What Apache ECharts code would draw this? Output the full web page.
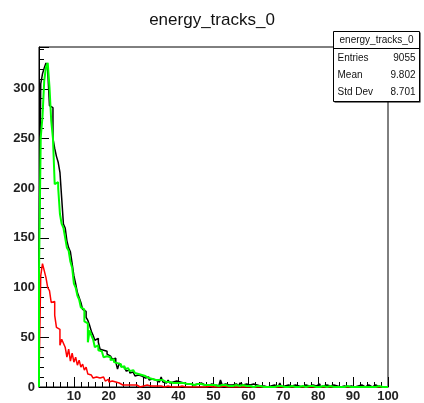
<!DOCTYPE html>
<html>
<head>
<meta charset="utf-8">
<script src="https://cdn.jsdelivr.net/npm/echarts@6/dist/echarts.min.js"></script>
<style>
  html, body { margin: 0; padding: 0; background: #fff; }
  #chart { width: 424px; height: 403px; }
</style>
</head>
<body>
<div id="chart"></div>
<script>
// Histogram energy_tracks_0: 200 bins of width 0.5 over [0, 100]
const histTitle = 'energy_tracks_0';
const binWidth = 0.5;
const xMin = 0;
const xMax = 100;
const yMax = 342;

// All tracks (black)
const blackCounts = [
  130,305,315,321,326,318,283,281,250,240,
  232,226,216,190,164,160,147,140,136,124,
  112,104,95,90,85,78,76,70,67,62,
  56,52,47,49,45,38,37,35,36,33,
  31,32,28,29,25,18,24,21,20,18,
  16,17,14,15,13,11,12,10,11,9,
  9,8,10,7,8,6,7,8,5,6,
  10,5,4,6,7,4,5,3,6,4,
  5,3,4,6,3,4,3,5,2,4,
  3,2,4,3,2,3,1,2,3,2,
  2,3,1,2,7,2,3,1,2,3,
  2,1,3,2,1,4,2,1,3,1,
  2,0,3,1,2,0,1,2,1,3,
  0,2,1,0,2,1,0,2,4,0,
  1,0,2,0,1,0,2,0,1,2,
  0,1,2,0,1,0,2,0,1,2,
  3,0,1,0,2,0,1,0,2,0,
  1,2,0,0,1,2,0,0,1,2,
  0,0,1,0,2,0,0,1,2,0,
  0,1,2,0,0,2,0,0,0,0
];

// Green component
const greenCounts = [
  114,251,272,308,322,326,302,268,250,204,
  206,200,174,164,160,150,140,137,126,120,
  104,100,92,88,80,78,66,64,45,57,
  52,48,40,42,37,36,34,30,31,29,
  30,27,28,25,24,22,23,20,21,18,
  19,17,16,17,15,14,13,14,12,11,
  11,10,9,10,8,9,7,8,7,6,
  7,6,5,6,5,5,4,5,4,4,
  4,3,4,3,3,4,3,3,2,3,
  3,2,3,2,2,3,2,2,2,1,
  2,2,1,2,2,1,2,1,1,2,
  1,1,2,1,1,1,2,1,1,1,
  1,1,0,1,1,0,1,1,0,1,
  0,1,0,1,0,0,1,0,1,0,
  0,1,0,0,1,0,0,1,0,0,
  1,0,0,1,1,2,1,0,0,1,
  0,0,1,0,0,0,1,0,0,0,
  0,1,0,0,0,0,1,0,0,0,
  0,0,0,1,0,0,0,0,0,0,
  0,0,0,0,1,0,0,0,0,0
];

// Red component
const redCounts = [
  8,112,124,117,110,100,97,85,86,72,
  60,58,42,48,44,40,30,38,26,34,
  25,30,22,27,20,23,17,20,13,12,
  11,9,10,8,9,7,10,8,6,8,
  5,6,4,5,3,4,4,2,3,2,
  3,2,1,2,1,2,1,0,1,1,
  1,2,1,1,0,1,2,1,0,1,
  1,0,1,1,0,0,1,0,1,0,
  0,1,0,0,1,0,0,0,1,0,
  0,0,1,0,0,0,0,1,0,0,
  0,0,0,0,0,1,0,0,0,0,
  0,0,0,0,0,0,0,0,0,0,
  0,0,0,0,0,0,0,0,0,0,
  0,0,0,0,0,0,0,0,0,0,
  0,0,0,0,0,0,0,0,0,0,
  0,0,0,0,0,0,0,0,0,0,
  0,0,0,0,0,0,0,0,0,0,
  0,0,0,0,0,0,0,0,0,0,
  0,0,0,0,0,0,0,0,0,0,
  0,0,0,0,0,0,0,0,0,0
];

// Statistics box contents
const statsLabels = ['Entries', 'Mean', 'Std Dev'];
const statsValues = ['9055', '9.802', '8.701'];

// Turn bin contents into step points (lower bin edge + closing edge)
function histPoints(counts) {
  const pts = [[xMin, 0]];
  counts.forEach((v, i) => pts.push([xMin + i * binWidth, v]));
  pts.push([xMax, counts[counts.length - 1]]);
  pts.push([xMax, 0]);
  return pts;
}

function histSeries(counts, color, width) {
  return {
    type: 'line',
    step: 'end',
    data: histPoints(counts),
    showSymbol: false,
    symbol: 'none',
    clip: true,
    silent: true,
    animation: false,
    lineStyle: { color: color, width: width }
  };
}

const font = '"Liberation Sans", Arial, Helvetica, sans-serif';
const chart = echarts.init(document.getElementById('chart'), null, { renderer: 'canvas' });

const boxL = 333.5, boxR = 419.5, boxT = 31.5, boxB = 101.5, sepY = 48.5;
const rowY = [58.5, 75.5, 92.5];

const graphics = [
  {
    type: 'rect', z: 100,
    shape: { x: boxL + 1, y: boxT + 1, width: boxR - boxL, height: boxB - boxT },
    style: { fill: '#000' }
  },
  {
    type: 'rect', z: 101,
    shape: { x: boxL, y: boxT, width: boxR - boxL, height: boxB - boxT },
    style: { fill: '#fff', stroke: '#000', lineWidth: 1 }
  },
  {
    type: 'line', z: 102,
    shape: { x1: boxL, y1: sepY, x2: boxR, y2: sepY },
    style: { stroke: '#000', lineWidth: 1 }
  },
  {
    type: 'text', z: 103, x: (boxL + boxR) / 2, y: (boxT + sepY) / 2 + 0.5,
    style: { text: histTitle, font: '10px ' + font, fill: '#111', align: 'center', verticalAlign: 'middle' }
  }
];
statsLabels.forEach((lab, i) => {
  graphics.push({
    type: 'text', z: 103, x: boxL + 4, y: rowY[i],
    style: { text: lab, font: '10px ' + font, fill: '#111', align: 'left', verticalAlign: 'middle' }
  });
  graphics.push({
    type: 'text', z: 103, x: boxR - 4, y: rowY[i],
    style: { text: statsValues[i], font: '10px ' + font, fill: '#111', align: 'right', verticalAlign: 'middle' }
  });
});

chart.setOption({
  animation: false,
  backgroundColor: '#fff',
  title: {
    text: histTitle,
    left: 'center',
    top: 7,
    textStyle: { fontFamily: font, fontSize: 17, fontWeight: 'normal', color: '#111' }
  },
  grid: {
    left: 39, right: 36, top: 47, bottom: 16,
    show: true, borderColor: '#000', borderWidth: 1, backgroundColor: 'transparent'
  },
  xAxis: {
    type: 'value', min: xMin, max: xMax, interval: 10,
    axisLine: { show: true, lineStyle: { color: '#000', width: 1 } },
    axisTick: { show: true, inside: true, length: 10, lineStyle: { color: '#000' } },
    minorTick: { show: true, splitNumber: 5, length: 5, lineStyle: { color: '#000' } },
    splitLine: { show: false },
    axisLabel: { showMinLabel: false, margin: 3, color: '#222', fontFamily: font, fontSize: 13, fontWeight: 'bold' }
  },
  yAxis: {
    type: 'value', min: 0, max: yMax, interval: 50,
    axisLine: { show: true, lineStyle: { color: '#000', width: 1 } },
    axisTick: { show: true, inside: true, length: 10, lineStyle: { color: '#000' } },
    minorTick: { show: true, splitNumber: 5, length: 5, lineStyle: { color: '#000' } },
    splitLine: { show: false },
    axisLabel: { showMaxLabel: false, margin: 4, color: '#222', fontFamily: font, fontSize: 13, fontWeight: 'bold' }
  },
  // drawing order: black, red, then green on top
  series: [
    histSeries(blackCounts, '#000000', 1.5),
    histSeries(redCounts, '#ff0000', 1.5),
    histSeries(greenCounts, '#00ff00', 2)
  ],
  graphic: graphics
});
</script>
</body>
</html>
